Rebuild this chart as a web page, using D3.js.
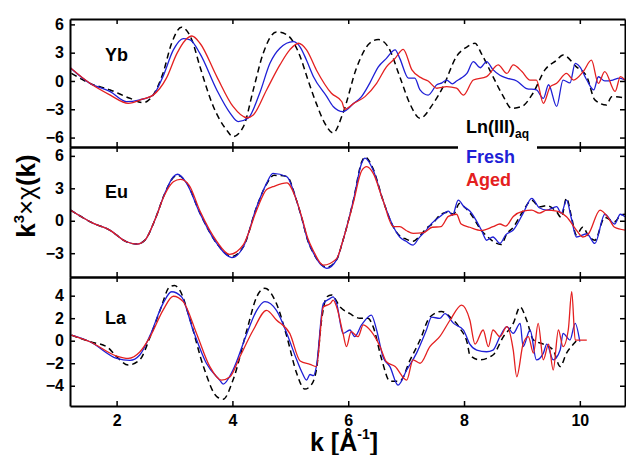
<!DOCTYPE html>
<html>
<head>
<meta charset="utf-8">
<script src="https://cdn.jsdelivr.net/npm/d3@7"></script>
<style>
  body { margin: 0; background: #fff; }
  svg { font-family: "Liberation Sans", Arial, sans-serif; }
  .axis path, .axis line { stroke: #000; }
  .axis path { stroke-width: 2; }
  .axis line { stroke-width: 1.5; }
  .axis text { font-size: 16px; font-weight: bold; fill: #000; }
</style>
</head>
<body>
<svg id="chart"></svg>
<script>
// k values of the x axis
const kTicks = [2, 4, 6, 8, 10];
const panelNames = ['Yb', 'Eu', 'La'];
const seriesNames = ['Ln(III)aq', 'Fresh', 'Aged'];

// Yb  [k, k^3 chi(k)]
const ybAq = [[1.22,0.8],[1.54,-0.25],[1.89,-0.95],[2.23,-1.84],[2.46,-2.3],[2.63,-1.5],[2.80,0.8],[2.95,4.0],[3.12,5.7],[3.30,4.35],[3.44,1.5],[3.67,-2.7],[3.90,-5.2],[4.01,-5.9],[4.19,-4.85],[4.36,-0.95],[4.53,2.9],[4.76,5.2],[4.94,4.9],[5.17,2.6],[5.30,0.2],[5.45,-2.4],[5.58,-4.3],[5.74,-5.5],[5.91,-3.4],[6.15,1.5],[6.37,4.0],[6.52,4.4],[6.69,3.6],[6.89,0.46],[7.06,-2.35],[7.24,-3.95],[7.47,-2.37],[7.64,-0.6],[7.87,2.6],[8.05,3.6],[8.19,4.0],[8.30,2.9],[8.50,0.46],[8.68,-1.66],[8.82,-2.9],[9.0,-2.7],[9.19,-1.3],[9.40,1.2],[9.60,2.2],[9.71,2.75],[9.94,1.5],[10.12,0.46],[10.26,-2.0],[10.46,-2.55],[10.55,-1.66],[10.78,-1.8]];
const ybFresh = [[1.2,1.4],[1.54,-0.25],[1.89,-1.13],[2.17,-2.2],[2.40,-2.0],[2.63,-1.5],[2.80,0.46],[2.98,3.3],[3.15,4.5],[3.27,4.35],[3.44,2.9],[3.73,-0.95],[3.96,-3.4],[4.1,-4.3],[4.27,-3.96],[4.47,-1.3],[4.65,1.9],[4.82,3.47],[5.05,4.17],[5.17,3.6],[5.28,2.2],[5.40,0.45],[5.63,-1.66],[5.74,-2.7],[5.91,-3.25],[6.09,-2.4],[6.23,-1.66],[6.37,-0.25],[6.52,1.5],[6.66,2.4],[6.81,3.3],[6.89,2.4],[7.04,0.3],[7.15,0.3],[7.24,-0.95],[7.38,-1.5],[7.53,-0.4],[7.62,-0.2],[7.70,0.1],[7.80,-0.3],[7.87,0],[7.95,0.3],[8.05,0.8],[8.16,2.05],[8.28,1.4],[8.39,2.05],[8.50,1.2],[8.62,0.6],[8.74,0.3],[8.91,0],[9.08,-0.8],[9.25,-0.95],[9.37,-1.84],[9.46,-0.4],[9.60,-2.7],[9.71,0.1],[9.83,-0.2],[9.92,1.87],[10.0,1.5],[10.12,0.1],[10.24,-0.95],[10.32,0.45],[10.43,0],[10.57,0.1],[10.68,0.3],[10.78,0.1]];
const ybAged = [[1.2,1.4],[1.54,-0.25],[1.89,-1.5],[2.2,-2.37],[2.46,-1.9],[2.63,-1.5],[2.86,0.3],[3.04,2.9],[3.19,4.35],[3.30,4.77],[3.44,4.0],[3.73,0.46],[4.01,-2.7],[4.25,-3.9],[4.36,-3.6],[4.59,-0.95],[4.82,1.7],[4.99,3.3],[5.14,4.0],[5.28,3.3],[5.45,1.17],[5.71,-1.3],[5.89,-2.2],[5.94,-3.0],[6.09,-2.4],[6.29,-1.66],[6.49,-0.25],[6.66,1.5],[6.81,2.4],[6.95,3.36],[7.10,1.17],[7.27,0.3],[7.38,0],[7.53,-0.77],[7.70,-0.6],[7.87,-0.77],[7.99,-1.5],[8.16,0.1],[8.39,0.46],[8.59,1.7],[8.74,0.8],[8.85,1.7],[9.0,1.0],[9.14,0.1],[9.25,0.1],[9.37,-2.37],[9.49,-0.6],[9.60,-0.25],[9.77,0.8],[9.89,0.1],[10.06,1.0],[10.20,2.2],[10.32,-0.25],[10.43,1.0],[10.61,-1.1],[10.70,0.46],[10.78,0.1]];

// Eu
const euAq = [[1.2,1.0],[1.6,-0.24],[1.88,-0.86],[2.17,-1.94],[2.35,-2.16],[2.49,-1.79],[2.66,0.06],[2.83,2.5],[2.98,4.0],[3.05,4.2],[3.21,3.5],[3.44,0.7],[3.73,-2.1],[3.99,-3.3],[4.19,-2.4],[4.42,1.3],[4.59,3.4],[4.72,4.2],[4.94,4.1],[5.1,2.0],[5.2,0.2],[5.3,-1.8],[5.40,-3.0],[5.57,-4.2],[5.63,-4.3],[5.80,-3.6],[5.91,-1.8],[6.09,1.9],[6.23,5.4],[6.29,5.9],[6.43,4.8],[6.6,1.9],[6.78,-0.6],[6.89,-1.4],[7.0,-1.7],[7.12,-1.9],[7.22,-1.5],[7.35,-0.7],[7.45,-0.3],[7.58,0.5],[7.73,0.8],[7.82,0.6],[7.92,1.6],[8.02,1.2],[8.12,0.6],[8.3,-0.9],[8.39,-1.4],[8.5,-1.9],[8.64,-2.2],[8.74,-1.2],[8.85,-0.6],[9.02,0.9],[9.17,1.9],[9.3,1.3],[9.43,1.4],[9.60,0.8],[9.68,0.3],[9.77,2.1],[9.85,0.5],[9.94,-1.3],[10.05,-0.6],[10.15,-1.4],[10.26,-1.8],[10.43,0.3],[10.60,-0.1],[10.70,0.5],[10.78,0.6]];
const euFresh = [[1.2,1.0],[1.6,-0.24],[1.88,-0.86],[2.17,-1.94],[2.35,-2.16],[2.49,-1.79],[2.66,0.06],[2.83,2.5],[2.98,4.07],[3.05,4.3],[3.21,3.46],[3.44,0.68],[3.73,-2.1],[3.99,-3.4],[4.19,-2.4],[4.42,1.3],[4.59,3.46],[4.7,4.39],[4.94,4.07],[5.1,2.0],[5.2,0.2],[5.3,-1.8],[5.40,-3.0],[5.57,-4.26],[5.63,-4.4],[5.80,-3.6],[5.91,-1.8],[6.09,1.9],[6.23,5.3],[6.29,5.8],[6.43,4.7],[6.6,1.9],[6.78,-0.55],[6.89,-1.5],[7.0,-1.9],[7.12,-2.25],[7.22,-1.6],[7.35,-0.86],[7.45,-0.2],[7.58,0.37],[7.73,0.9],[7.80,0.5],[7.90,1.9],[8.0,1.3],[8.1,0.9],[8.3,-0.86],[8.39,-1.8],[8.5,-1.5],[8.62,-2.1],[8.72,-1.3],[8.85,-0.86],[9.02,0.68],[9.17,2.07],[9.3,1.2],[9.43,0.99],[9.60,1.3],[9.68,0.7],[9.77,1.9],[9.85,0.3],[9.94,-1.5],[10.12,-1.2],[10.26,-2.1],[10.43,0.6],[10.60,-0.3],[10.70,0.6],[10.78,0.37]];
const euAged = [[1.2,1.0],[1.6,-0.24],[1.88,-0.86],[2.17,-1.94],[2.35,-2.16],[2.49,-1.79],[2.66,0.06],[2.83,2.4],[2.98,3.6],[3.1,3.83],[3.25,3.3],[3.44,0.9],[3.73,-1.9],[3.95,-3.1],[4.19,-2.2],[4.42,1.0],[4.59,2.9],[4.7,3.15],[4.94,3.5],[5.1,2.0],[5.2,0.3],[5.3,-1.6],[5.40,-2.8],[5.57,-4.1],[5.80,-3.5],[5.91,-1.8],[6.09,1.7],[6.23,4.6],[6.32,5.0],[6.43,4.4],[6.6,1.9],[6.78,-0.55],[6.89,-0.55],[7.0,-0.9],[7.12,-1.17],[7.3,-1.1],[7.45,-0.6],[7.6,-0.55],[7.73,0.4],[7.87,0.6],[7.95,-0.3],[8.1,-0.6],[8.3,-0.9],[8.5,-0.55],[8.62,-0.3],[8.72,-0.5],[8.85,0.4],[9.02,0.9],[9.17,0.99],[9.3,0.7],[9.43,0.99],[9.6,0.9],[9.77,0.37],[9.94,-0.86],[10.05,-1.5],[10.15,-1.2],[10.35,0.99],[10.5,0.2],[10.60,-0.6],[10.78,-0.86]];

// La
const laAq = [[1.22,0.5],[1.54,-0.09],[1.83,-0.53],[2.0,-1.42],[2.2,-2.16],[2.4,-1.7],[2.58,0.36],[2.75,2.7],[2.92,4.8],[3.0,4.9],[3.09,4.5],[3.27,1.84],[3.50,-2.3],[3.73,-4.97],[3.84,-5.2],[4.01,-3.5],[4.25,0.95],[4.42,3.9],[4.56,4.66],[4.76,3.3],[4.94,0.36],[5.11,-2.9],[5.25,-4.3],[5.35,-4.0],[5.45,-2.6],[5.54,1.84],[5.63,3.9],[5.71,4.06],[5.86,3.0],[6.03,2.4],[6.2,2.0],[6.34,2.0],[6.43,1.25],[6.58,-1.7],[6.72,-3.6],[6.89,-3.6],[7.07,-1.7],[7.24,0.06],[7.41,2.1],[7.61,2.6],[7.76,2.1],[7.93,1.1],[8.06,-0.3],[8.10,-1.27],[8.27,-1.7],[8.5,-1.27],[8.68,0.36],[8.85,1.54],[8.97,3.0],[9.08,1.84],[9.2,0.06],[9.37,-0.3],[9.54,-0.83],[9.66,-2.3],[9.77,-1.1],[9.89,-0.3],[9.95,0.06]];
const laFresh = [[1.22,0.5],[1.54,-0.09],[2.0,-1.57],[2.23,-1.75],[2.4,-1.27],[2.58,0.5],[2.80,3.3],[2.95,4.35],[3.12,3.9],[3.32,0.95],[3.55,-2.0],[3.78,-3.5],[3.84,-3.85],[4.01,-2.6],[4.25,0.65],[4.42,2.7],[4.56,3.47],[4.76,2.7],[4.94,0.65],[5.11,-1.7],[5.2,-2.8],[5.28,-3.5],[5.34,-3.0],[5.40,-3.1],[5.45,-2.3],[5.57,3.3],[5.69,3.76],[5.74,3.9],[5.80,3.3],[5.91,0.65],[6.03,0.95],[6.11,0.36],[6.23,1.4],[6.40,2.28],[6.49,0.95],[6.6,-1.42],[6.72,-2.3],[6.86,-3.94],[7.01,-2.6],[7.18,-1.1],[7.35,0.95],[7.44,2.1],[7.58,1.98],[7.67,2.4],[7.82,1.54],[7.99,0.95],[8.1,-0.3],[8.22,-0.83],[8.39,-0.98],[8.5,-0.83],[8.62,0.36],[8.74,1.25],[8.85,0.65],[8.97,1.54],[9.02,-0.53],[9.14,0.95],[9.25,-1.7],[9.37,-1.1],[9.43,-0.3],[9.54,-1.7],[9.66,-0.83],[9.71,0.65],[9.83,0.06],[9.92,1.54],[10.0,-0.09]];
const laAged = [[1.22,0.5],[1.54,-0.09],[2.0,-1.36],[2.2,-1.57],[2.4,-1.0],[2.58,0.36],[2.80,2.7],[2.98,3.95],[3.15,3.47],[3.38,0.65],[3.61,-2.3],[3.81,-3.5],[3.96,-3.2],[4.13,-1.42],[4.36,0.95],[4.59,2.7],[4.76,1.84],[4.99,0.65],[5.17,-1.8],[5.34,-2.1],[5.45,-2.3],[5.57,3.0],[5.69,3.3],[5.74,3.6],[5.80,3.0],[5.91,0.65],[5.97,-0.53],[6.05,0.8],[6.17,0.36],[6.26,1.4],[6.40,0.8],[6.55,-0.53],[6.66,-1.87],[6.81,-2.3],[7.01,-3.5],[7.12,-1.7],[7.24,-2.0],[7.41,-0.53],[7.58,0.36],[7.76,1.84],[7.96,3.17],[8.10,1.84],[8.19,-0.3],[8.33,0.95],[8.42,-0.53],[8.5,0.95],[8.62,0.36],[8.74,1.25],[8.85,-0.83],[8.91,-3.2],[9.02,-0.3],[9.11,0.36],[9.2,-1.1],[9.28,1.54],[9.37,-1.7],[9.46,-0.3],[9.54,-2.6],[9.63,0.95],[9.71,-0.53],[9.80,0.95],[9.86,4.35],[9.92,0.06],[10.12,0.06]];

// y ranges and ticks per panel
const yDomains = [[-7.0, 6.57], [-5.2, 6.82], [-5.8, 5.66]];
const yTicks = [[-6, -3, 0, 3, 6], [-3, 0, 3, 6], [-4, -2, 0, 2, 4]];

const W = 626, H = 455;
const margin = { left: 70, right: 1, top: 19, bottom: 49 };
const panelTops = [19, 147, 277, 406];
const colors = ['#000', '#1f1fd6', '#e42020'];

const svg = d3.select('#chart').attr('width', W).attr('height', H);

const x = d3.scaleLinear().domain([1.195, 10.78]).range([margin.left, W - margin.right]);

class Panel {
  constructor(_config) {
    this.config = _config;
    this.initVis();
  }

  initVis() {
    let vis = this;
    const c = vis.config;
    vis.y = d3.scaleLinear().domain(c.domain).range([c.bottom, c.top]);

    vis.g = svg.append('g');
    vis.g.append('clipPath').attr('id', 'clip' + c.index)
      .append('rect')
      .attr('x', x.range()[0]).attr('y', c.top)
      .attr('width', x.range()[1] - x.range()[0]).attr('height', c.bottom - c.top);

    vis.renderVis();
  }

  renderVis() {
    let vis = this;
    const c = vis.config;
    const line = d3.line().curve(d3.curveMonotoneX).x(d => x(d[0])).y(d => vis.y(d[1]));

    const lines = vis.g.append('g').attr('clip-path', `url(#clip${c.index})`);
    // dashed reference first, then fresh and aged
    c.series.forEach((s, i) => {
      lines.append('path')
        .datum(s)
        .attr('d', line)
        .attr('fill', 'none')
        .attr('stroke', colors[i])
        .attr('stroke-width', i === 0 ? 1.5 : 1.3)
        .attr('stroke-dasharray', i === 0 ? '6,4' : null);
    });

    vis.g.append('text')
      .attr('x', 105).attr('y', c.top + c.labelDy)
      .attr('font-size', 18).attr('font-weight', 'bold')
      .text(c.name);

    const yLeft = d3.axisLeft(vis.y).tickValues(c.ticks).tickSizeInner(-5).tickSizeOuter(0).tickPadding(6);
    const yRight = d3.axisRight(vis.y).tickValues(c.ticks).tickSizeInner(-5).tickSizeOuter(0).tickFormat('');
    const xTop = d3.axisTop(x).tickValues(kTicks).tickSizeInner(-5).tickSizeOuter(0).tickFormat('');
    const xBot = d3.axisBottom(x).tickValues(kTicks).tickSizeInner(-5).tickSizeOuter(0).tickPadding(9);
    if (!c.showX) xBot.tickFormat('');

    vis.g.append('g').attr('class', 'axis').attr('transform', `translate(${x.range()[0]},0)`).call(yLeft);
    vis.g.append('g').attr('class', 'axis').attr('transform', `translate(${x.range()[1]},0)`).call(yRight);
    vis.g.append('g').attr('class', 'axis').attr('transform', `translate(0,${c.top})`).call(xTop);
    vis.g.append('g').attr('class', 'axis').attr('transform', `translate(0,${c.bottom})`).call(xBot);
    vis.g.selectAll('.axis').attr('font-family', null).attr('font-size', null);
  }
}

const allSeries = [[ybAq, ybFresh, ybAged], [euAq, euFresh, euAged], [laAq, laFresh, laAged]];
const labelDy = [42, 51, 47];

panelNames.forEach((name, i) => {
  new Panel({
    index: i,
    name: name,
    top: panelTops[i],
    bottom: panelTops[i + 1],
    domain: yDomains[i],
    ticks: yTicks[i],
    series: allSeries[i],
    labelDy: labelDy[i],
    showX: i === 2
  });
});

// legend sitting on the Yb / Eu border
const legend = svg.append('g');
legend.append('rect').attr('x', 458).attr('y', 142).attr('width', 79).attr('height', 11).attr('fill', '#fff');
const lt = legend.append('text').attr('x', 466).attr('y', 133)
  .attr('font-size', 18).attr('font-weight', 'bold').attr('fill', colors[0]);
lt.append('tspan').text('Ln(III)');
lt.append('tspan').attr('font-size', 12).attr('dy', 5).text('aq');
legend.append('text').attr('x', 466).attr('y', 163)
  .attr('font-size', 18).attr('font-weight', 'bold').attr('fill', colors[1]).text(seriesNames[1]);
legend.append('text').attr('x', 466).attr('y', 186)
  .attr('font-size', 18).attr('font-weight', 'bold').attr('fill', colors[2]).text(seriesNames[2]);

// axis titles
const yt = svg.append('text')
  .attr('transform', 'translate(35,196) rotate(-90)')
  .attr('text-anchor', 'middle')
  .attr('font-size', 26).attr('font-weight', 'bold');
yt.append('tspan').text('k');
yt.append('tspan').attr('font-size', 15).attr('dy', -11).text('3');
yt.append('tspan').attr('dy', 11).attr('font-weight', 'normal').text('×χ');
yt.append('tspan').text('(k)');

const xt = svg.append('text')
  .attr('x', 344).attr('y', 451)
  .attr('text-anchor', 'middle')
  .attr('font-size', 25).attr('font-weight', 'bold');
xt.append('tspan').text('k [Å');
xt.append('tspan').attr('font-size', 14).attr('dy', -12).text('-1');
xt.append('tspan').attr('dy', 12).text(']');
</script>
</body>
</html>
